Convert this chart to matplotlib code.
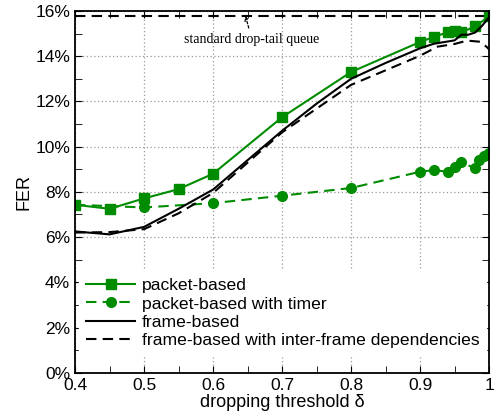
import matplotlib
matplotlib.use('Agg')
import matplotlib.pyplot as plt
import numpy as np
from matplotlib.ticker import MultipleLocator, FuncFormatter

# data (FER in %)
pkt_x = [0.4, 0.45, 0.5, 0.55, 0.6, 0.7, 0.8, 0.9, 0.92, 0.94, 0.95, 0.96, 0.98, 1.0]
pkt_y = [7.43, 7.25, 7.71, 8.12, 8.8, 11.3, 13.3, 14.63, 14.85, 15.06, 15.1, 15.06, 15.32, 15.76]

timer_x = [0.4, 0.5, 0.6, 0.7, 0.8, 0.9, 0.92, 0.94, 0.95, 0.96, 0.98, 0.986, 0.992, 0.998, 1.0]
timer_y = [7.43, 7.31, 7.5, 7.83, 8.17, 8.89, 8.96, 8.89, 9.08, 9.3, 9.04, 9.42, 9.6, 9.67, 9.7]

frame_x = [0.4, 0.45, 0.5, 0.55, 0.6, 0.65, 0.7, 0.75, 0.8, 0.85, 0.9, 0.92, 0.94, 0.95, 0.96, 0.97, 0.98, 0.99, 1.0]
frame_y = [6.25, 6.12, 6.45, 7.25, 8.1, 9.4, 10.7, 11.9, 13.0, 13.7, 14.35, 14.55, 14.65, 14.7, 14.95, 14.95, 15.05, 15.35, 15.72]

dep_x = [0.4, 0.45, 0.5, 0.55, 0.6, 0.7, 0.8, 0.9, 0.925, 0.95, 0.968, 0.987, 0.997, 1.0]
dep_y = [6.2, 6.22, 6.35, 7.05, 7.95, 10.63, 12.73, 14.02, 14.42, 14.54, 14.69, 14.64, 14.4, 14.3]

droptail = 15.78

green = '#008c00'
plt.rcParams['font.family'] = ['Liberation Sans', 'DejaVu Sans']

fig = plt.figure(figsize=(4.97, 4.16), dpi=100)
ax = fig.add_axes([0.151, 0.104, 0.833, 0.8696])

ax.axhline(droptail, color='black', lw=1.5, ls=(0, (5, 3)))
ax.plot(pkt_x, pkt_y, color=green, lw=1.5, marker='s', ms=7, label='packet-based')
ax.plot(timer_x, timer_y, color=green, lw=1.5, ls=(0, (5, 3)), marker='o', ms=7,
        label='packet-based with timer')
ax.plot(frame_x, frame_y, color='black', lw=1.5, label='frame-based')
ax.plot(dep_x, dep_y, color='black', lw=1.5, ls=(0, (5, 3)),
        label='frame-based with inter-frame dependencies')

ax.annotate('standard drop-tail queue', xy=(0.647, droptail), xytext=(0.6565, 14.72),
            ha='center', va='center', fontsize=10, family='Liberation Serif',
            arrowprops=dict(arrowstyle='->', ls=(0, (2, 1.5)), lw=0.9, color='black',
                            shrinkA=2, shrinkB=0, mutation_scale=7))

ax.set_xlim(0.4, 1.0)
ax.set_ylim(0, 16)
ax.xaxis.set_major_locator(MultipleLocator(0.1))
ax.xaxis.set_minor_locator(MultipleLocator(0.05))
ax.yaxis.set_major_locator(MultipleLocator(2))
ax.yaxis.set_minor_locator(MultipleLocator(1))
ax.xaxis.set_major_formatter(FuncFormatter(lambda v, p: '1' if abs(v - 1) < 1e-9 else '%.1f' % v))
ax.yaxis.set_major_formatter(FuncFormatter(lambda v, p: '%d%%' % v))
ax.tick_params(which='both', direction='in', top=True, right=True, labelsize=12.5)
ax.tick_params(which='both', length=5)
ax.grid(True, which='major', ls=(0, (1, 2)), color='#999999', lw=0.9)
for s in ax.spines.values():
    s.set_linewidth(1.3)

ax.set_xlabel('dropping threshold δ', fontsize=13, labelpad=1)
ax.set_ylabel('FER', fontsize=13, labelpad=2)

leg = ax.legend(loc='lower left', bbox_to_anchor=(0.01, 0.049), borderaxespad=0,
                fontsize=12.6, handlelength=2.8, handletextpad=0.38,
                labelspacing=0.17, borderpad=0.4, fancybox=False, framealpha=1)
leg.get_frame().set_edgecolor('white')

fig.savefig('out.png', dpi=100)
